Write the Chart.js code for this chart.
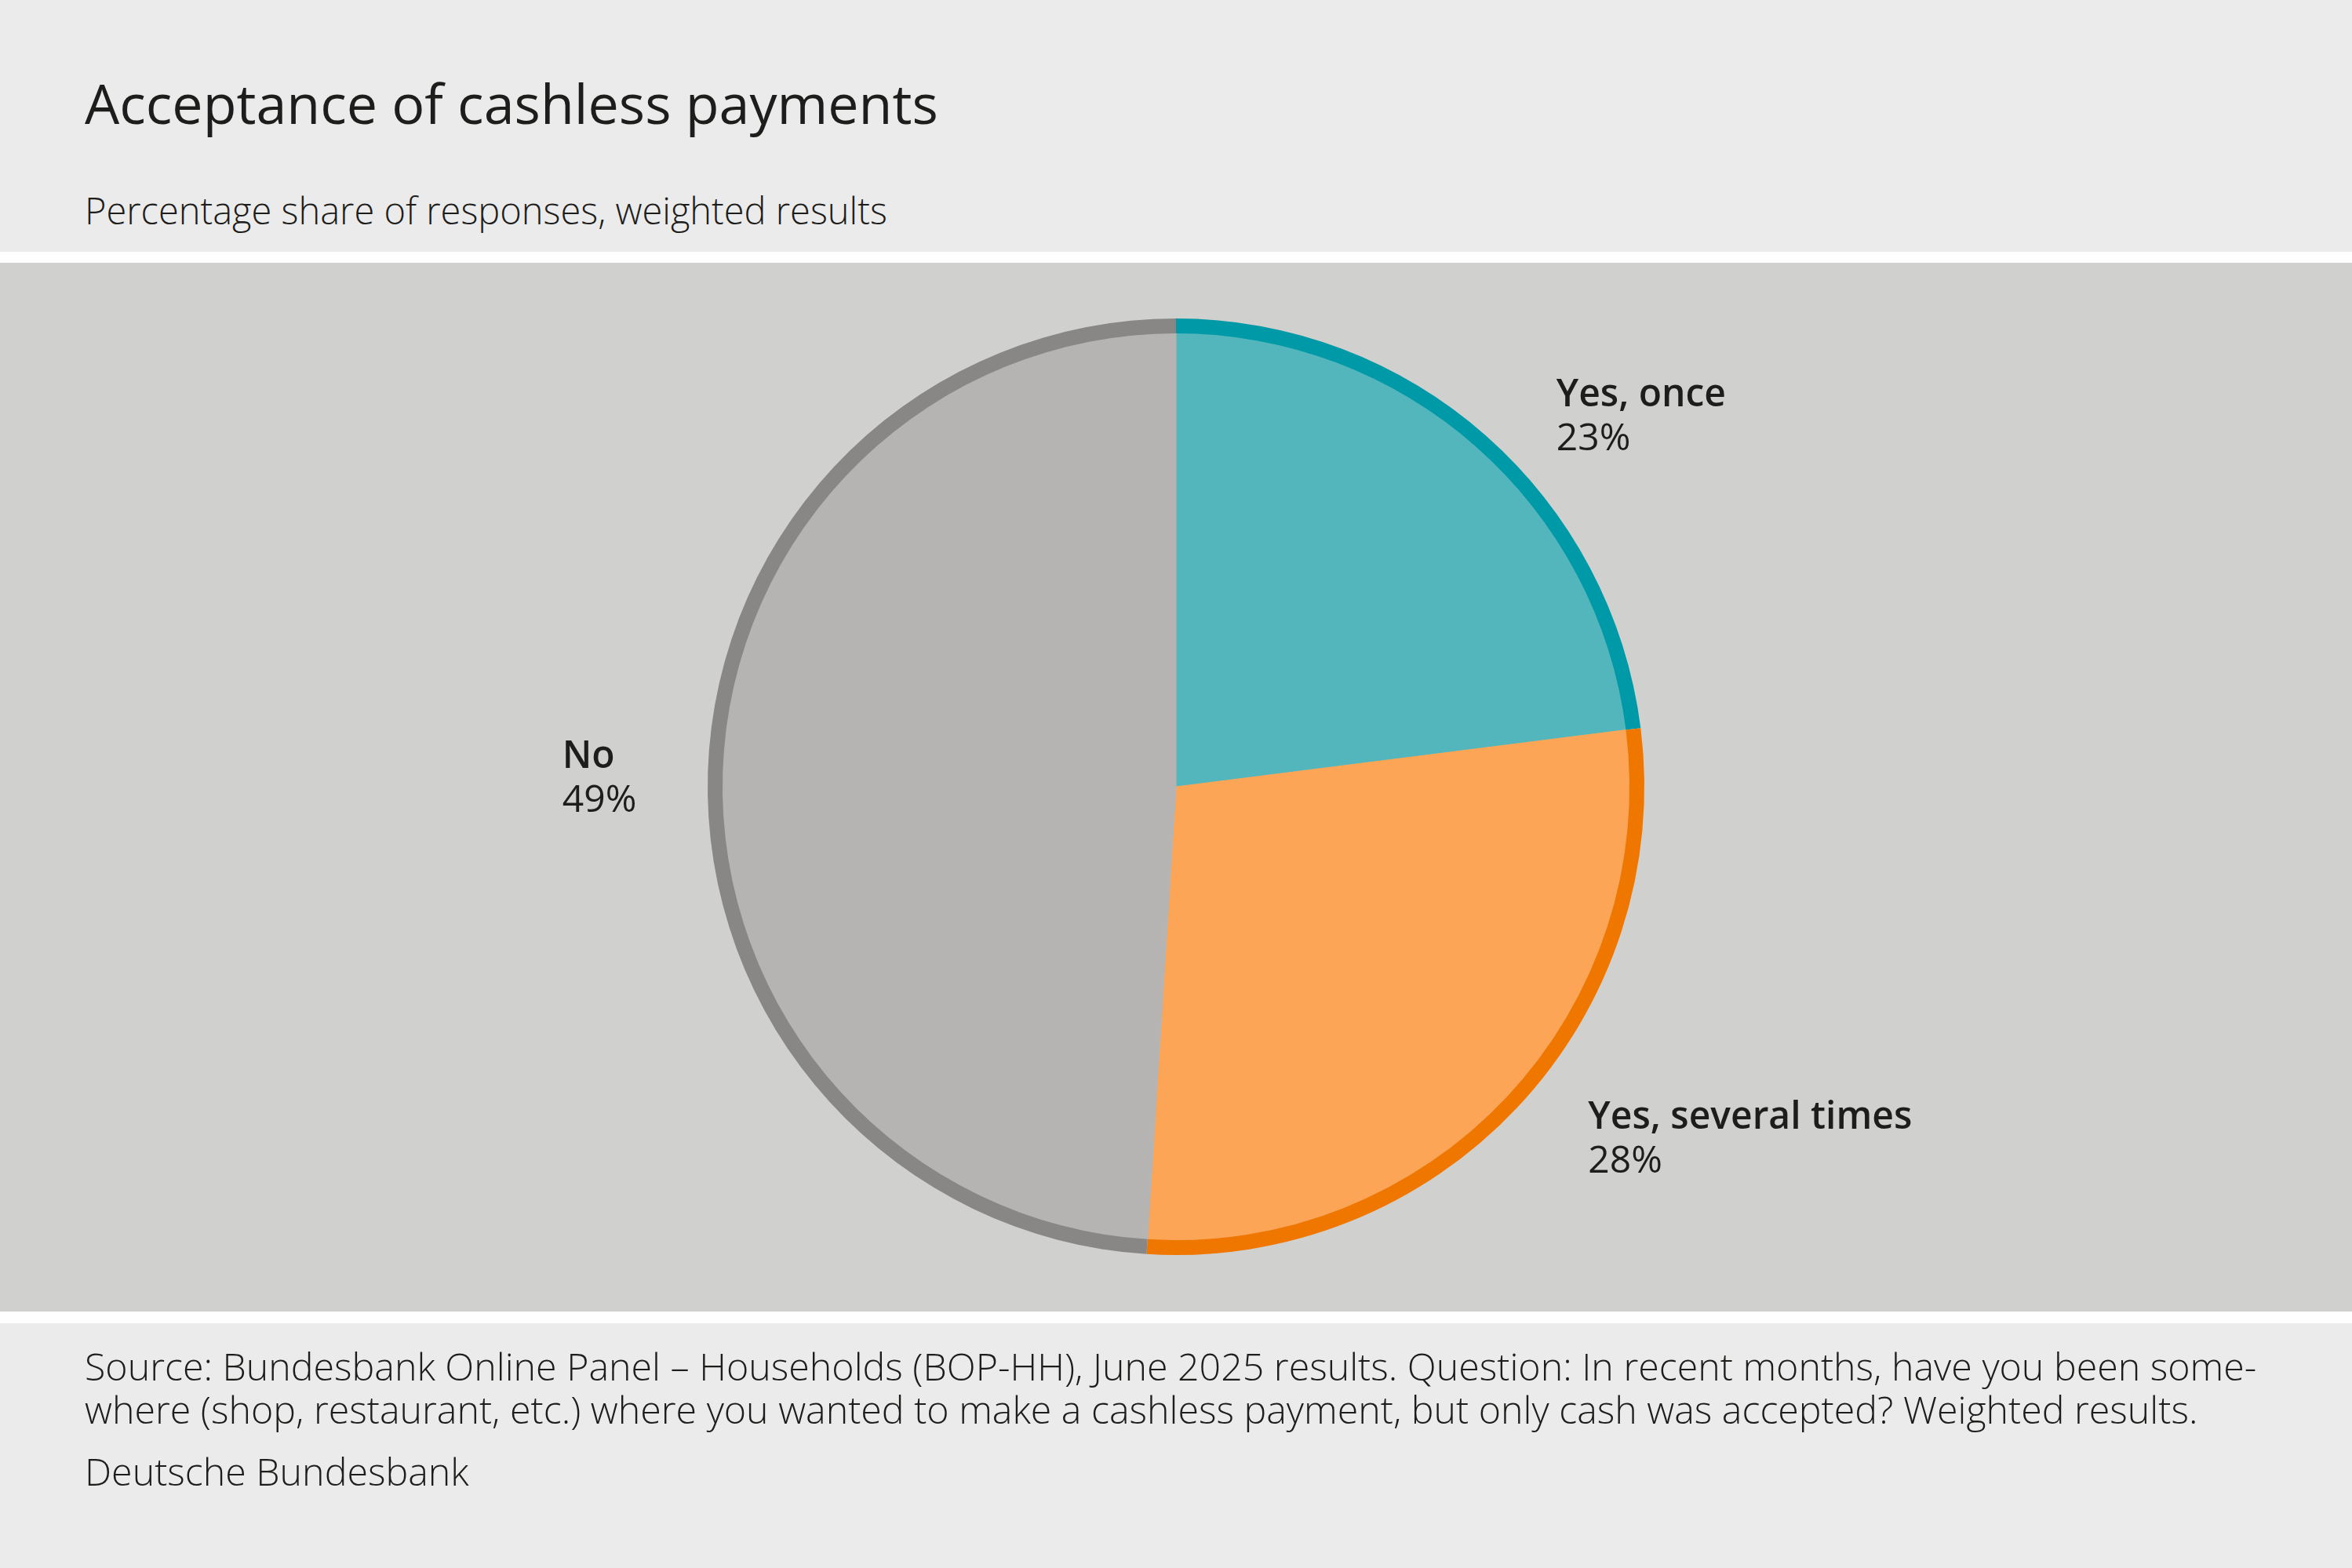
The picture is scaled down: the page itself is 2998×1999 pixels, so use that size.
<!DOCTYPE html>
<html>
<head>
<meta charset="utf-8">
<script src="https://cdn.jsdelivr.net/npm/chart.js@4/dist/chart.umd.min.js"></script>
<style>
  html, body { margin: 0; padding: 0; }
  body { width: 2998px; height: 1999px; position: relative; background: #ebebeb; overflow: hidden;
         font-family: "Open Sans", sans-serif; color: #1d1d1b; }
  .txt { position: absolute; left: 108px; white-space: nowrap; line-height: 1; }
  #title { top: 96px; font-size: 70px; font-weight: 400; }
  #subtitle { top: 245px; font-size: 47px; font-weight: 300; }
  .sep { position: absolute; left: 0; width: 2998px; background: #ffffff; }
  #plot { position: absolute; left: 0; top: 335px; width: 2998px; height: 1337px; background: #d0d0ce; }
  #footer { top: 1714px; font-size: 48.3px; font-weight: 300; line-height: 55px; }
  #footer .l { display: block; height: 55px; }
  #footer .org { margin-top: 24px; }
</style>
</head>
<body>
<div class="txt" id="title">Acceptance of cashless payments</div>
<div class="txt" id="subtitle">Percentage share of responses, weighted results</div>
<div class="sep" style="top:321px;height:14px"></div>
<div id="plot"><canvas id="pie"></canvas></div>
<div class="sep" style="top:1672px;height:15px"></div>
<div class="txt" id="footer">
  <span class="l">Source: Bundesbank Online Panel – Households (BOP-HH), June 2025 results. Question: In recent months, have you been some-</span>
  <span class="l">where (shop, restaurant, etc.) where you wanted to make a cashless payment, but only cash was accepted? Weighted results.</span>
  <span class="l org">Deutsche Bundesbank</span>
</div>
<script>
const categories = ["Yes, once", "Yes, several times", "No"];
const shares = [23, 28, 49];

const fillColors = ["#52b6bc", "#fca557", "#b5b4b2"];
const rimColors = ["#0099a8", "#ef7700", "#888785"];

// labels sit outside the pie, next to the middle of each slice
const sliceLabels = {
  id: "sliceLabels",
  afterDatasetsDraw(chart) {
    const ctx = chart.ctx;
    const arcs = chart.getDatasetMeta(0).data;
    const size = 48, lh = 56, cap = size * 0.714;
    const nameFont = '600 ' + size + 'px "Open Sans"';
    const valFont = '400 ' + size + 'px "Open Sans"';
    arcs.forEach((arc, i) => {
      const p = arc.getProps(["x", "y", "startAngle", "endAngle", "outerRadius"], true);
      const mid = (p.startAngle + p.endAngle) / 2;
      const d = p.outerRadius * 1.005;
      const ax = p.x + Math.cos(mid) * d;
      // block centre pushed a bit further out vertically
      const cy = p.y + Math.sin(mid) * (d + 42) + 7;
      const val = shares[i] + "%";
      ctx.save();
      ctx.font = nameFont;
      const w1 = ctx.measureText(categories[i]).width;
      ctx.font = valFont;
      const w2 = ctx.measureText(val).width;
      const w = Math.max(w1, w2);
      const left = Math.cos(mid) >= 0 ? ax + 88 : ax - 88 - w;
      ctx.fillStyle = "#1d1d1b";
      ctx.textAlign = "left";
      ctx.textBaseline = "alphabetic";
      ctx.font = nameFont;
      ctx.fillText(categories[i], left, cy - lh / 2 + cap / 2);
      ctx.font = valFont;
      ctx.fillText(val, left, cy + lh / 2 + cap / 2);
      ctx.restore();
    });
  }
};

new Chart(document.getElementById("pie"), {
  type: "pie",
  data: {
    labels: categories,
    datasets: [
      { data: shares, backgroundColor: rimColors, borderWidth: 0, weight: 19 },
      { data: shares, backgroundColor: fillColors, borderColor: fillColors, borderWidth: 1, weight: 578 }
    ]
  },
  options: {
    responsive: true,
    maintainAspectRatio: false,
    animation: false,
    layout: { padding: { top: 71, bottom: 72 } },
    plugins: { legend: { display: false }, tooltip: { enabled: false } }
  },
  plugins: [sliceLabels]
});
</script>
</body>
</html>
